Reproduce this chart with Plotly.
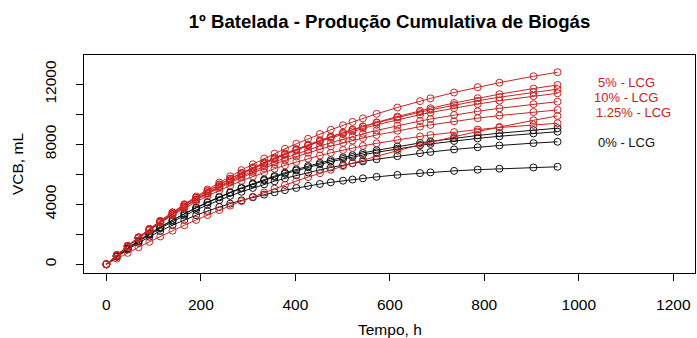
import plotly.graph_objects as go

hours = [0, 22, 45, 68, 91, 114, 140, 165, 190, 214, 239, 262, 286, 310, 334, 356, 378,
         402, 427, 452, 475, 501, 521, 543, 572, 616, 664, 686, 736, 786, 832, 904, 955]

lcg5_a = [0, 605, 1214, 1797, 2357, 2894, 3474, 4009, 4519, 4987, 5454, 5866, 6277, 6671, 7048, 7380, 7700,
          8034, 8366, 8686, 8965, 9268, 9493, 9730, 10029, 10452, 10879, 11062, 11452, 11809, 12110, 12535, 12804]
lcg5_b = [0, 584, 1170, 1731, 2268, 2780, 3336, 3843, 4327, 4771, 5212, 5599, 5988, 6356, 6710, 7020, 7317,
          7627, 7935, 8230, 8488, 8768, 8974, 9191, 9463, 9850, 10236, 10402, 10753, 11073, 11341, 11717, 11954]
lcg5_c = [0, 608, 1217, 1796, 2347, 2872, 3436, 3951, 4438, 4883, 5323, 5709, 6091, 6455, 6800, 7102, 7391,
          7691, 7987, 8268, 8515, 8779, 8974, 9177, 9432, 9790, 10144, 10296, 10614, 10901, 11139, 11469, 11674]
lcg10_a = [0, 613, 1225, 1804, 2356, 2881, 3444, 3954, 4437, 4878, 5312, 5691, 6066, 6422, 6760, 7055, 7335,
           7625, 7912, 8184, 8421, 8675, 8862, 9057, 9300, 9640, 9975, 10118, 10417, 10686, 10908, 11212, 11401]
lcg10_b = [0, 601, 1199, 1767, 2303, 2813, 3359, 3853, 4319, 4742, 5159, 5522, 5880, 6220, 6540, 6820, 7086,
           7360, 7631, 7886, 8108, 8346, 8519, 8701, 8927, 9242, 9551, 9682, 9955, 10199, 10399, 10675, 10843]
lcg10_c = [0, 606, 1206, 1771, 2306, 2810, 3346, 3830, 4284, 4694, 5096, 5445, 5787, 6110, 6414, 6677, 6926,
           7182, 7434, 7670, 7874, 8092, 8249, 8415, 8619, 8901, 9176, 9291, 9531, 9742, 9915, 10147, 10290]
lcg125_a = [0, 603, 1196, 1751, 2271, 2759, 3275, 3737, 4167, 4552, 4928, 5250, 5565, 5860, 6136, 6373, 6595,
            6823, 7045, 7251, 7429, 7616, 7752, 7892, 8064, 8300, 8526, 8620, 8813, 8982, 9117, 9296, 9403]
lcg125_b = [0, 378, 763, 1137, 1501, 1855, 2242, 2604, 2957, 3284, 3615, 3912, 4212, 4504, 4788, 5042, 5288,
            5549, 5815, 6071, 6300, 6551, 6741, 6943, 7201, 7576, 7963, 8135, 8504, 8854, 9157, 9599, 9890]
lcg0_a = [0, 534, 1063, 1561, 2033, 2478, 2950, 3377, 3777, 4139, 4494, 4801, 5103, 5388, 5655, 5887, 6107,
          6333, 6554, 6763, 6943, 7135, 7274, 7420, 7599, 7848, 8091, 8192, 8404, 8589, 8742, 8947, 9073]
lcg0_b = [0, 536, 1065, 1563, 2032, 2474, 2943, 3364, 3760, 4115, 4464, 4765, 5060, 5338, 5598, 5823, 6035,
          6254, 6467, 6667, 6840, 7024, 7156, 7295, 7465, 7701, 7929, 8025, 8221, 8396, 8536, 8726, 8840]
lcg0_c = [0, 524, 1039, 1522, 1973, 2397, 2846, 3247, 3621, 3955, 4281, 4561, 4835, 5091, 5331, 5537, 5730,
          5928, 6121, 6300, 6454, 6617, 6735, 6857, 7006, 7211, 7408, 7489, 7657, 7804, 7921, 8077, 8170]
lcg0_d = [0, 499, 982, 1428, 1838, 2217, 2611, 2957, 3274, 3553, 3820, 4046, 4263, 4463, 4646, 4801, 4945,
          5089, 5228, 5354, 5461, 5573, 5651, 5732, 5829, 5960, 6080, 6129, 6227, 6309, 6373, 6455, 6502]

x_ticks = [0, 200, 400, 600, 800, 1000, 1200]
y_ticks = [0, 2000, 4000, 6000, 8000, 10000, 12000]
y_ticktext = ["0", "", "4000", "", "8000", "", "12000"]

labels = ["5% - LCG", "10% - LCG", "1.25% - LCG", "0% - LCG"]
label_x = [1100, 1100, 1115, 1100]
label_y = [12150, 11150, 10130, 8150]

RED = "#cc2222"
BLACK = "#111111"
FONT = "Liberation Sans, Arial"

black_series = [lcg0_a, lcg0_b, lcg0_c, lcg0_d]
red_series = [lcg5_a, lcg5_b, lcg5_c, lcg10_a, lcg10_b, lcg10_c, lcg125_a, lcg125_b]

fig = go.Figure()
for s in black_series:
    fig.add_trace(go.Scatter(x=hours, y=s, mode="lines+markers",
                             line=dict(color=BLACK, width=1),
                             marker=dict(symbol="circle-open", size=7, color=BLACK, line=dict(width=1)),
                             showlegend=False))
for s in red_series:
    fig.add_trace(go.Scatter(x=hours, y=s, mode="lines+markers",
                             line=dict(color=RED, width=1),
                             marker=dict(symbol="circle-open", size=7, color=RED, line=dict(width=1)),
                             showlegend=False))

label_colors = [RED, RED, RED, BLACK]
for t, lx, ly, c in zip(labels, label_x, label_y, label_colors):
    fig.add_annotation(x=lx, y=ly, xref="x", yref="y", text=t, showarrow=False,
                       font=dict(family=FONT, size=13, color=c),
                       xanchor="center", yanchor="middle", borderpad=0)

# axis titles
fig.add_annotation(x=0.5, y=-(329 - 273) / 218, xref="paper", yref="paper", text="Tempo, h",
                   showarrow=False, font=dict(family=FONT, size=15.5, color="black"),
                   xanchor="center", yanchor="middle")
fig.add_annotation(x=(17 - 84) / 611, y=0.5, xref="paper", yref="paper", text="VCB, mL",
                   showarrow=False, textangle=-90,
                   font=dict(family=FONT, size=15.5, color="black"),
                   xanchor="center", yanchor="middle")

fig.update_layout(
    width=697, height=338,
    margin=dict(l=84, r=2, t=55, b=65),
    paper_bgcolor="white", plot_bgcolor="white",
    font=dict(family=FONT, size=15.5, color="black"),
    title=dict(text="<b>1º Batelada - Produção Cumulativa de Biogás</b>",
               x=0.5, xref="paper", xanchor="center",
               y=1 - 21 / 338, yref="container", yanchor="middle",
               font=dict(family=FONT, size=18.6, color="black")),
)
fig.update_xaxes(range=[-47.4, 1246], tickvals=x_ticks, ticktext=[str(v) for v in x_ticks],
                 ticks="outside", ticklen=7, tickcolor="black", showline=True, mirror=True,
                 linecolor="black", linewidth=1, showgrid=False, zeroline=False,
                 ticklabelstandoff=10)
fig.update_yaxes(range=[-580, 13953], tickvals=y_ticks, ticktext=y_ticktext, tickangle=-90,
                 ticks="outside", ticklen=7, tickcolor="black", showline=True, mirror=True,
                 linecolor="black", linewidth=1, showgrid=False, zeroline=False,
                 ticklabelstandoff=14)

fig.write_html("out.html", config={"displayModeBar": False, "staticPlot": True})

# remove the browser's default page margin so the figure fills the window exactly
with open("out.html", "r", encoding="utf-8") as fh:
    html = fh.read()
html = html.replace("<head>", "<head><style>html,body{margin:0;padding:0;overflow:hidden;}</style>", 1)
with open("out.html", "w", encoding="utf-8") as fh:
    fh.write(html)
